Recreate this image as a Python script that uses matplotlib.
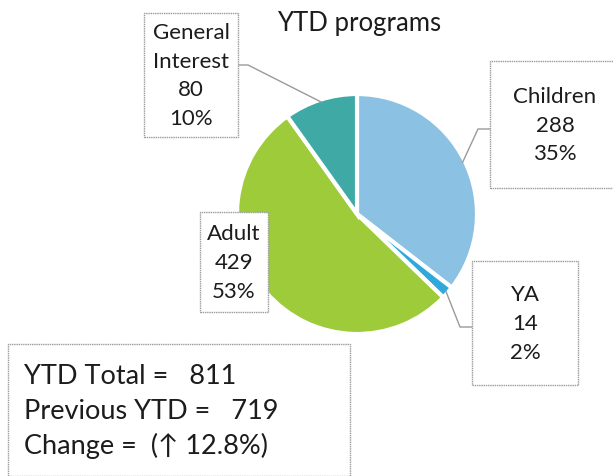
import numpy as np
import matplotlib.pyplot as plt
from matplotlib.patches import Rectangle

plt.rcParams['font.family'] = ['Lato', 'DejaVu Sans']

# data
categories = ["Children", "YA", "Adult", "General\nInterest"]
counts = [288, 14, 429, 80]
percents = [35, 2, 53, 10]
colors = ["#8bc2e3", "#2fa9dc", "#9ecb3a", "#3fa9a6"]
ytd_total = 811
prev_ytd = 719
change = 12.8

W, H = 613, 477
fig = plt.figure(figsize=(W / 100, H / 100), dpi=100)
ax = fig.add_axes([0, 0, 1, 1])

cx, cy, r = 357, 477 - 215, 120
wedges, _ = ax.pie(counts, colors=colors, startangle=90, counterclock=False,
                   center=(cx, cy), radius=r,
                   wedgeprops=dict(edgecolor='white', linewidth=3))
ax.set_xlim(0, W)
ax.set_ylim(0, H)
ax.set_aspect('equal')
ax.axis('off')

txt_col = '#1c1c1c'
ax.text(cx + 2, 477 - 24, "YTD programs", ha='center', va='center', fontsize=18.5, color=txt_col)

# label boxes: (x0, top pixel, width, height, leader bend points)
boxes = [
    (490, 62, 130, 127, [(490, 130), (478, 130)]),
    (472, 262, 106, 124, [(472, 328), (460, 328)]),
    (200, 213, 68, 100, None),
    (144, 14, 94, 124, [(238, 66), (248, 66)]),
]

edge_col = '#9a9a9a'
for i, (w, box) in enumerate(zip(wedges, boxes)):
    x0, ytop, bw, bh, bends = box
    rect = Rectangle((x0, 477 - ytop - bh), bw, bh, facecolor='white',
                     edgecolor=edge_col, linewidth=1, linestyle=(0, (1, 0.6)), zorder=3)
    ax.add_patch(rect)
    label = f"{categories[i]}\n{counts[i]}\n{percents[i]}%"
    ax.text(x0 + bw / 2, 477 - ytop - bh / 2, label, ha='center', va='center',
            fontsize=16, linespacing=1.55, color=txt_col, zorder=4)
    if bends:
        mid = np.deg2rad((w.theta1 + w.theta2) / 2)
        px = cx + r * 0.98 * np.cos(mid)
        py = cy + r * 0.98 * np.sin(mid)
        xs = [b[0] for b in bends] + [px]
        ys = [477 - b[1] for b in bends] + [py]
        ax.plot(xs, ys, color=edge_col, linewidth=1, zorder=2)

# summary box
rect = Rectangle((8, 0), 342, 477 - 345, facecolor='white', edgecolor=edge_col,
                 linewidth=1, linestyle=(0, (1, 0.6)), zorder=3)
ax.add_patch(rect)
summary = [f"YTD Total =   {ytd_total}",
           f"Previous YTD =   {prev_ytd}",
           f"Change =  (\u2191 {change}%)"]
for k, line in enumerate(summary):
    ax.text(24, 477 - 377 - k * 34.5, line, ha='left', va='center', fontsize=19.5,
            color=txt_col, zorder=4)

fig.savefig("out.png", dpi=100)
